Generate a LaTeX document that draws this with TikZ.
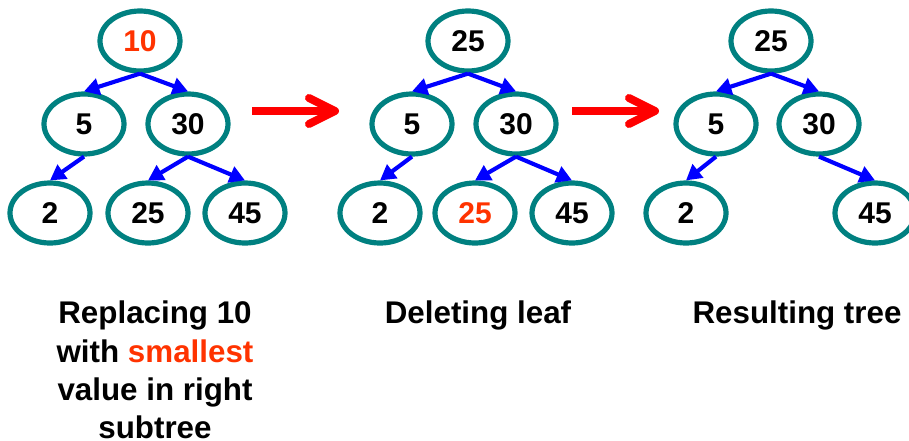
\documentclass[tikz,border=0pt]{standalone}
\usepackage{fontspec}
\setmainfont{Liberation Sans}
\usetikzlibrary{shapes.geometric,arrows.meta,calc}
\definecolor{tealc}{HTML}{008080}
\definecolor{hilite}{HTML}{FF3300}
\definecolor{bluec}{HTML}{0000FF}
\definecolor{redc}{HTML}{FF0000}
\tikzset{
  x=0.75pt, y=-0.75pt,
  tnode/.style={ellipse, draw=tealc, line width=3.9pt, minimum width=60pt, minimum height=45pt, inner sep=0pt, font=\fontsize{22.5}{26}\selectfont\bfseries},
  edge/.style={draw=bluec, line width=3.1pt, -{Triangle[length=11.5pt,width=12.5pt]}},
  bigarrow/.style={draw=redc, line width=6pt},
  chevron/.style={draw=redc, line width=6pt, line cap=round, line join=round},
  caption/.style={anchor=north, inner sep=0pt, align=center, font=\fontsize{23.5}{28.7}\selectfont\bfseries}
}
\begin{document}
\begin{tikzpicture}
\useasboundingbox (0,0) rectangle (909,440);
\clip (0,0) rectangle (909,440);
% tree 1
\node[tnode] (r1) at (140,41) {\textcolor{hilite}{10}};
\node[tnode] (a1) at (84,124) {5};
\node[tnode] (b1) at (188,124) {30};
\node[tnode] (c1) at (50,213) {2};
\node[tnode] (d1) at (148,213) {25};
\node[tnode] (e1) at (245,213) {45};
\draw[edge] (r1.south) -- (a1.north);
\draw[edge] (r1.south) -- (b1.north);
\draw[edge] (a1.south) -- (c1.north);
\draw[edge] (b1.south) -- (d1.north);
\draw[edge] (b1.south) -- (e1.north);
% tree 2
\node[tnode] (r2) at (468,41) {25};
\node[tnode] (a2) at (412,124) {5};
\node[tnode] (b2) at (516,124) {30};
\node[tnode] (c2) at (380,213) {2};
\node[tnode] (d2) at (475,213) {\textcolor{hilite}{25}};
\node[tnode] (e2) at (572,213) {45};
\draw[edge] (r2.south) -- (a2.north);
\draw[edge] (r2.south) -- (b2.north);
\draw[edge] (a2.south) -- (c2.north);
\draw[edge] (b2.south) -- (d2.north);
\draw[edge] (b2.south) -- (e2.north);
% tree 3
\node[tnode] (r3) at (771,41) {25};
\node[tnode] (a3) at (716,124) {5};
\node[tnode] (b3) at (819,124) {30};
\node[tnode] (c3) at (686,213) {2};
\node[tnode] (e3) at (875,213) {45};
\draw[edge] (r3.south) -- (a3.north);
\draw[edge] (r3.south) -- (b3.north);
\draw[edge] (a3.south) -- (c3.north);
\draw[edge] (b3.south) -- (e3.north);
% red arrows
\coordinate (s1) at (252,111);
\coordinate (t1) at (335,111);
\coordinate (s2) at (572,111);
\coordinate (t2) at (655,111);
\draw[bigarrow] (s1) -- (t1);
\draw[chevron] ($(t1)+(-26,-13)$) -- (t1) -- ($(t1)+(-26,13)$);
\draw[bigarrow] (s2) -- (t2);
\draw[chevron] ($(t2)+(-26,-13)$) -- (t2) -- ($(t2)+(-26,13)$);
% captions
\node[caption] (cap1) at (155,301) {Replacing 10\\with \textcolor{hilite}{smallest}\\value in right\\subtree};
\node[caption] (cap2) at (478,301) {Deleting leaf};
\node[caption] (cap3) at (797,301) {Resulting tree};
\end{tikzpicture}
\end{document}
